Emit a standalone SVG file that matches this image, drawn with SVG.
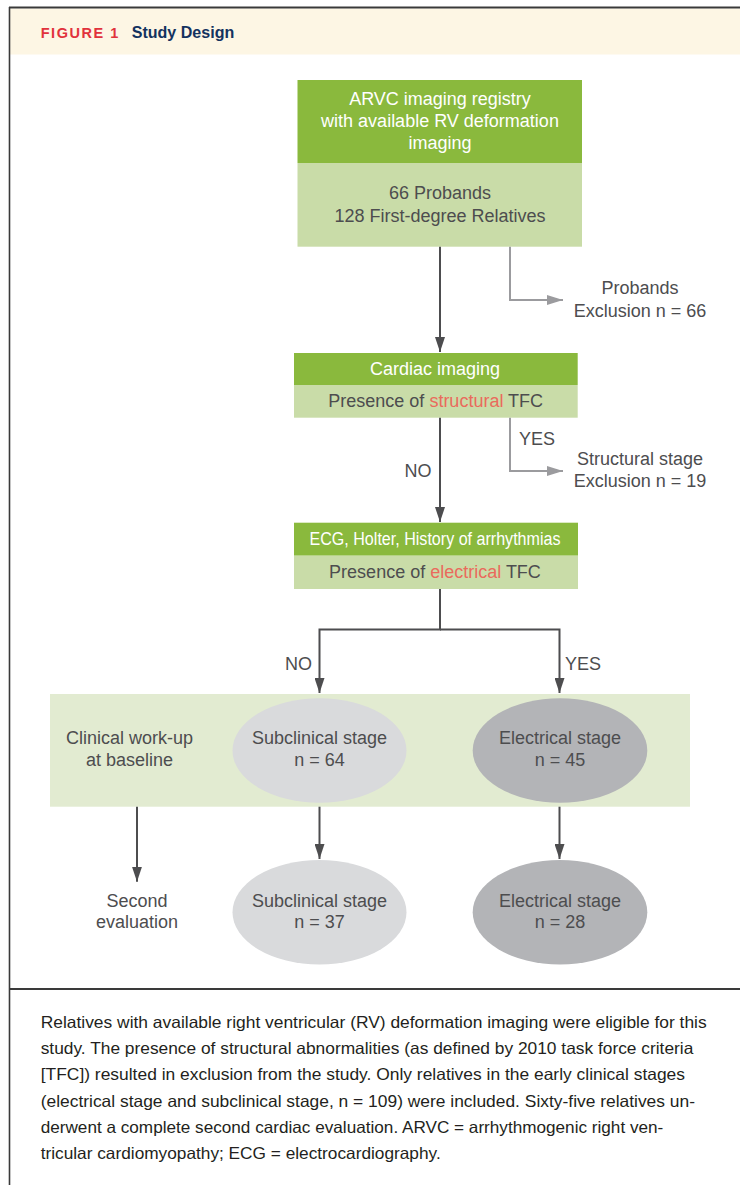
<svg xmlns="http://www.w3.org/2000/svg" width="740" height="1185" viewBox="0 0 740 1185">
<style>
.t{font-family:"Liberation Sans",Arial,sans-serif;font-size:18px;fill:#4d4d4f;text-anchor:middle}
.w{fill:#ffffff}
.red{fill:#ea6a5c}
.dk{fill:#8ab93d}
.lt{fill:#c9dca8}
.cap{font-family:"Liberation Sans",Arial,sans-serif;font-size:16.5px;fill:#231f20}
.ln{fill:none;stroke:#4d4d4f;stroke-width:2}
.gl{fill:none;stroke:#9b9b9e;stroke-width:2}
</style>
<defs>
<marker id="ad" viewBox="0 0 15 10" refX="15" refY="5" markerWidth="15" markerHeight="10" markerUnits="userSpaceOnUse" orient="auto"><path d="M0,0 L15,5 L0,10 Z" fill="#4d4d4f"/></marker>
<marker id="ag" viewBox="0 0 16 10" refX="16" refY="5" markerWidth="16" markerHeight="10" markerUnits="userSpaceOnUse" orient="auto"><path d="M0,0 L16,5 L0,10 Z" fill="#9b9b9e"/></marker>
</defs>
<rect width="740" height="1185" fill="#ffffff"/>
<g id="header">
<rect x="10" y="8.5" width="730" height="46" fill="#fdf6e4"/>
<text x="40.7" y="38.3" font-family="Liberation Sans,Arial,sans-serif" font-size="14.5" font-weight="bold" fill="#e1323c" textLength="77.6" lengthAdjust="spacing">FIGURE 1</text>
<text x="131.7" y="38.3" font-family="Liberation Sans,Arial,sans-serif" font-size="16.5" font-weight="bold" fill="#13325f" textLength="102.6" lengthAdjust="spacingAndGlyphs">Study Design</text>
</g>
<g id="frame" fill="none" stroke="#3a3a3a">
<line x1="9" y1="7.5" x2="740" y2="7.5" stroke-width="2"/>
<line x1="9.5" y1="7" x2="9.5" y2="1185" stroke-width="1.6"/>
<line x1="9" y1="989" x2="740" y2="989" stroke-width="1.8"/>
</g>
<g id="registry">
<rect class="dk" x="297.5" y="80" width="284.5" height="83"/>
<rect class="lt" x="297.5" y="163" width="284.5" height="83.7"/>
<text class="t w" x="440" y="105">ARVC imaging registry</text>
<text class="t w" x="440" y="127">with available RV deformation</text>
<text class="t w" x="440" y="148.5">imaging</text>
<text class="t" x="440" y="199.3">66 Probands</text>
<text class="t" x="440" y="221.7">128 First-degree Relatives</text>
</g>
<g id="probands-exclusion">
<text class="t" x="640" y="294.3">Probands</text>
<text class="t" x="640" y="316.7">Exclusion n = 66</text>
</g>
<g id="cardiac-imaging">
<rect class="dk" x="294" y="353" width="283.7" height="32"/>
<rect class="lt" x="294" y="385" width="283.7" height="32.7"/>
<text class="t w" x="435" y="375">Cardiac imaging</text>
<text class="t" x="435.7" y="406.7">Presence of <tspan class="red">structural</tspan> TFC</text>
</g>
<g id="structural-exclusion">
<text class="t" x="640" y="465">Structural stage</text>
<text class="t" x="640" y="486.7">Exclusion n = 19</text>
</g>
<g id="ecg">
<rect class="dk" x="294" y="522.7" width="284" height="33"/>
<rect class="lt" x="294" y="555.7" width="284" height="33.3"/>
<text class="t w" x="435" y="545" font-size="15" textLength="251" lengthAdjust="spacingAndGlyphs">ECG, Holter, History of arrhythmias</text>
<text class="t" x="435" y="578.3">Presence of <tspan class="red">electrical</tspan> TFC</text>
</g>
<g id="baseline">
<rect x="50" y="694" width="640" height="112.7" fill="#e2ebd1"/>
<text class="t" x="129.5" y="744">Clinical work-up</text>
<text class="t" x="129.5" y="766">at baseline</text>
</g>
<g id="subclinical-baseline">
<ellipse cx="319.5" cy="750.5" rx="87" ry="52.2" fill="#d9dadc"/>
<text class="t" x="319.5" y="744">Subclinical stage</text>
<text class="t" x="319.5" y="766">n = 64</text>
</g>
<g id="electrical-baseline">
<ellipse cx="560" cy="750.5" rx="87.3" ry="52.2" fill="#b3b4b7"/>
<text class="t" x="560" y="744">Electrical stage</text>
<text class="t" x="560" y="766">n = 45</text>
</g>
<g id="second-evaluation">
<text class="t" x="137" y="906.7">Second</text>
<text class="t" x="137" y="928.3">evaluation</text>
</g>
<g id="subclinical-second">
<ellipse cx="319.5" cy="912.3" rx="87" ry="52.3" fill="#d9dadc"/>
<text class="t" x="319.5" y="906.7">Subclinical stage</text>
<text class="t" x="319.5" y="928.3">n = 37</text>
</g>
<g id="electrical-second">
<ellipse cx="560" cy="912.3" rx="87.3" ry="52.3" fill="#b3b4b7"/>
<text class="t" x="560" y="906.7">Electrical stage</text>
<text class="t" x="560" y="928.3">n = 28</text>
</g>
<g id="connectors">
<line class="ln" x1="440" y1="246.7" x2="440" y2="352" marker-end="url(#ad)"/>
<path class="gl" d="M510,246.7 V300 H563" marker-end="url(#ag)"/>
<line class="ln" x1="440" y1="417.7" x2="440" y2="522" marker-end="url(#ad)"/>
<path class="gl" d="M510,417.7 V471 H563" marker-end="url(#ag)"/>
<path class="ln" d="M440,589 V629.5 H319.5 V693" marker-end="url(#ad)"/>
<path class="ln" d="M440,629.5 H559.5 V693" marker-end="url(#ad)"/>
<line class="ln" x1="137" y1="806.7" x2="137" y2="881.7" marker-end="url(#ad)"/>
<line class="ln" x1="319.5" y1="806.7" x2="319.5" y2="859" marker-end="url(#ad)"/>
<line class="ln" x1="559.5" y1="806.7" x2="559.5" y2="859" marker-end="url(#ad)"/>
<text class="t" x="537" y="445">YES</text>
<text class="t" x="418" y="477">NO</text>
<text class="t" x="298.6" y="670">NO</text>
<text class="t" x="583" y="670">YES</text>
</g>
<g id="caption">
<text class="cap" x="40.7" y="1027.7" textLength="666" lengthAdjust="spacingAndGlyphs">Relatives with available right ventricular (RV) deformation imaging were eligible for this</text>
<text class="cap" x="40.7" y="1054" textLength="652.6" lengthAdjust="spacingAndGlyphs">study. The presence of structural abnormalities (as defined by 2010 task force criteria</text>
<text class="cap" x="40.7" y="1080.3" textLength="644.3" lengthAdjust="spacingAndGlyphs">[TFC]) resulted in exclusion from the study. Only relatives in the early clinical stages</text>
<text class="cap" x="40.7" y="1106.6" textLength="654.3" lengthAdjust="spacingAndGlyphs">(electrical stage and subclinical stage, n = 109) were included. Sixty-five relatives un-</text>
<text class="cap" x="40.7" y="1132.9" textLength="622.6" lengthAdjust="spacingAndGlyphs">derwent a complete second cardiac evaluation. ARVC = arrhythmogenic right ven-</text>
<text class="cap" x="40.7" y="1159.2" textLength="400" lengthAdjust="spacingAndGlyphs">tricular cardiomyopathy; ECG = electrocardiography.</text>
</g>
</svg>
